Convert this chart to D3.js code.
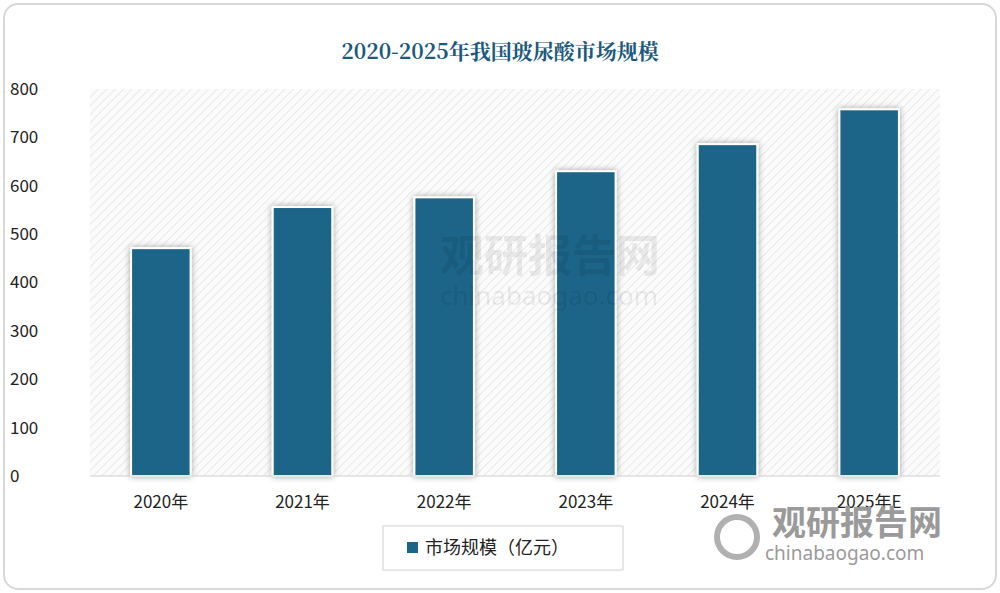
<!DOCTYPE html>
<html><head><meta charset="utf-8">
<script src="https://cdn.jsdelivr.net/npm/d3@7"></script>
<style>body{margin:0;background:#fff;}</style></head>
<body><svg id="c" width="1000" height="593"></svg>
<script>
const categories=["2020年","2021年","2022年","2023年","2024年","2025年E"];
const values=[471,556,576,630,686,758];
const yTicks=[0,100,200,300,400,500,600,700,800];
const seriesName="市场规模（亿元）";
const title="2020-2025年我国玻尿酸市场规模";
const svg=d3.select("#c");
const defs=svg.append("defs");
const pat=defs.append("pattern").attr("id","hatch").attr("patternUnits","userSpaceOnUse").attr("width",6).attr("height",6).attr("patternTransform","rotate(45)");
pat.append("rect").attr("width",6).attr("height",6).attr("fill","#fbfbfb");
pat.append("line").attr("x1",0).attr("y1",0).attr("x2",0).attr("y2",6).attr("stroke","#e4e4e4").attr("stroke-width",1.5);
const f=defs.append("filter").attr("id","sh").attr("x","-30%").attr("y","-10%").attr("width","160%").attr("height","120%");
f.append("feDropShadow").attr("dx",0).attr("dy",0).attr("stdDeviation",3).attr("flood-color","#000").attr("flood-opacity",0.35);
svg.append("rect").attr("x",4).attr("y",4).attr("width",992).attr("height",585).attr("rx",14).attr("fill","#fff").attr("stroke","#d8d8d8").attr("stroke-width",2);
const m={l:90,r:940,t:89,b:476};
svg.append("rect").attr("x",m.l).attr("y",m.t).attr("width",m.r-m.l).attr("height",m.b-m.t).attr("fill","url(#hatch)");
const x=d3.scaleBand().domain(categories).range([m.l,m.r]).paddingInner(0.58).paddingOuter(0.29);
const y=d3.scaleLinear().domain([0,800]).range([m.b,m.t]);
svg.append("text").attr("x",500).attr("y",59).attr("text-anchor","middle")
  .attr("font-family","'Noto Serif CJK SC','Noto Sans CJK SC',serif").attr("font-weight","bold").attr("font-size",21).attr("fill","#1b5a7d").text(title);
// bars
svg.selectAll("rect.bar").data(values).enter().append("rect").attr("class","bar")
  .attr("x",(d,i)=>x(categories[i])).attr("width",x.bandwidth())
  .attr("y",d=>y(d)).attr("height",d=>y(0)-y(d))
  .attr("fill","#1b6589").attr("stroke","#fff").attr("stroke-width",2).attr("filter","url(#sh)");
// y axis
const ya=svg.append("g").attr("transform",`translate(${m.l},0)`).call(d3.axisLeft(y).tickValues(yTicks).tickSize(0).tickPadding(22));
ya.select(".domain").remove();
ya.selectAll("text").attr("font-family","'Noto Sans CJK SC',sans-serif").attr("font-size",17).attr("fill","#222").attr("text-anchor","start").attr("x",-80);
// x axis
svg.append("line").attr("x1",m.l).attr("x2",m.r).attr("y1",m.b).attr("y2",m.b).attr("stroke","#d0d0d0");
const xa=svg.append("g").attr("transform",`translate(0,${m.b})`).call(d3.axisBottom(x).tickSize(0).tickPadding(20));
xa.select(".domain").remove();
xa.selectAll("text").attr("font-family","'Noto Sans CJK SC',sans-serif").attr("font-size",17).attr("fill","#222");
// legend
const lg=svg.append("g");
lg.append("rect").attr("x",383).attr("y",526).attr("width",240).height=0;
lg.select("rect").attr("height",44).attr("fill","#fff").attr("stroke","#cfcfcf");
lg.append("rect").attr("x",407).attr("y",542).attr("width",11).attr("height",11).attr("fill","#1b6589");
lg.append("text").attr("x",425).attr("y",554).attr("font-family","'Noto Sans CJK SC',sans-serif").attr("font-size",18).attr("fill","#222").text(seriesName);
// watermarks
svg.append("text").attr("x",440).attr("y",272).attr("font-family","'Noto Sans CJK SC',sans-serif").attr("font-weight","bold").attr("font-size",44).attr("fill","#000").attr("opacity",0.07).text("观研报告网");
svg.append("text").attr("x",440).attr("y",305).attr("font-family","'Noto Sans',sans-serif").attr("font-size",26).attr("fill","#000").attr("opacity",0.07).text("chinabaogao.com");
svg.append("text").attr("x",772).attr("y",535).attr("font-family","'Noto Sans CJK SC',sans-serif").attr("font-weight","bold").attr("font-size",34).attr("fill","#9a9a9a").text("观研报告网");
svg.append("text").attr("x",765).attr("y",560).attr("font-family","'Noto Sans',sans-serif").attr("font-size",19).attr("fill","#9a9a9a").text("chinabaogao.com");
svg.append("circle").attr("cx",737).attr("cy",537).attr("r",20).attr("fill","none").attr("stroke","#b0b0b0").attr("stroke-width",6);
</script></body></html>
